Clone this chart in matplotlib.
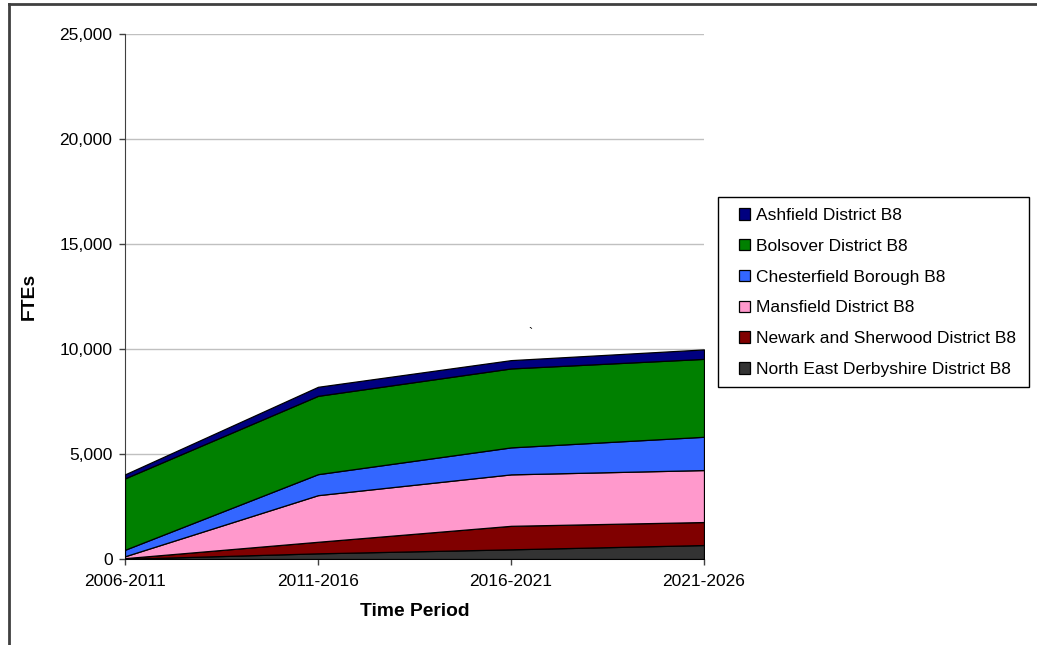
import matplotlib
matplotlib.use("Agg")
import matplotlib.pyplot as plt
import matplotlib.lines as lines
from matplotlib.patches import Patch, Rectangle
from matplotlib.ticker import FuncFormatter

plt.rcParams['font.family'] = ['Liberation Sans', 'DejaVu Sans']

periods = ["2006-2011", "2011-2016", "2016-2021", "2021-2026"]

# stacking order, bottom to top
ne_derbyshire = [10, 270, 460, 665]
newark = [30, 550, 1120, 1095]
mansfield = [90, 2220, 2450, 2475]
chesterfield = [310, 1000, 1285, 1585]
bolsover = [3400, 3730, 3760, 3710]
ashfield = [190, 430, 395, 450]

series_names = ["North East Derbyshire District B8", "Newark and Sherwood District B8",
                "Mansfield District B8", "Chesterfield Borough B8",
                "Bolsover District B8", "Ashfield District B8"]
series = [ne_derbyshire, newark, mansfield, chesterfield, bolsover, ashfield]
colors = ["#333333", "#800000", "#FF99CC", "#3366FF", "#008000", "#000080"]

W, H, dpi = 1037, 645, 100
fig = plt.figure(figsize=(W / dpi, H / dpi), dpi=dpi)

# axes placed in pixel terms
x0, x1, ytop, ybot = 125, 704, 34, 559
ax = fig.add_axes([x0 / W, (H - ybot) / H, (x1 - x0) / W, (ybot - ytop) / H])

xs = list(range(len(periods)))
ax.stackplot(xs, *series, colors=colors, edgecolor="black", linewidth=0.9, zorder=3)

ax.set_xlim(0, len(periods) - 1)
ax.set_ylim(0, 25000)
ax.set_yticks(range(0, 25001, 5000))
ax.yaxis.set_major_formatter(FuncFormatter(lambda v, p: f"{int(v):,}"))
ax.set_xticks(xs)
ax.set_xticklabels(periods)
ax.grid(axis="y", color="#C0C0C0", linewidth=1.0, zorder=0)
ax.set_axisbelow(True)

ax.tick_params(axis="both", direction="out", length=4, width=1, labelsize=12.5,
               color="#404040", pad=5)
ax.tick_params(axis="x", pad=7)
ax.spines["top"].set_visible(False)
ax.spines["right"].set_visible(False)
ax.spines["left"].set_color("#404040")
ax.spines["bottom"].set_color("#A0A0A0")

ax.set_xlabel("Time Period", fontsize=13.9, fontweight="bold", labelpad=10)
ax.set_ylabel("FTEs", fontsize=13.9, fontweight="bold")
ax.yaxis.set_label_coords((38 - x0) / (x1 - x0), 0.5)

# stray backtick present in the original
fig.text(530 / W, 1 - 334 / H, "`", fontsize=9, ha="center", va="center")

# legend box drawn separately so the inner padding can differ per side
fig.add_artist(Rectangle((718 / W, 1 - 387 / H), (1029 - 718) / W, (387 - 197) / H,
                         transform=fig.transFigure, facecolor="white",
                         edgecolor="black", linewidth=1.0))
handles = [Patch(facecolor=c, edgecolor="black", linewidth=0.9) for c in colors]
leg = fig.legend(handles[::-1], series_names[::-1], loc="upper left",
                 bbox_to_anchor=(739 / W, 1 - 208 / H), fontsize=12.5,
                 frameon=False, handlelength=0.62, handleheight=0.62,
                 handletextpad=0.38, labelspacing=0.91, borderpad=0,
                 borderaxespad=0)

# outer chart frame (only top and left edges are in view)
fig.add_artist(lines.Line2D([9 / W, 1], [1 - 4 / H, 1 - 4 / H], color="#404040", linewidth=2,
                            transform=fig.transFigure))
fig.add_artist(lines.Line2D([9 / W, 9 / W], [1 - 4 / H, 0], color="#404040", linewidth=2,
                            transform=fig.transFigure))

fig.savefig("out.png", dpi=dpi)
